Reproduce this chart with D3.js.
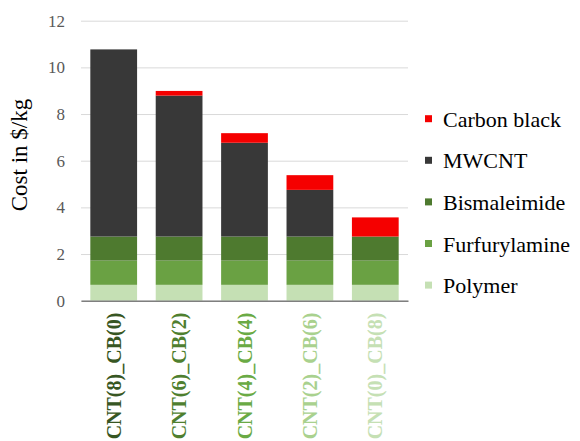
<!DOCTYPE html>
<html>
<head>
<meta charset="utf-8">
<script src="https://cdn.jsdelivr.net/npm/d3@7"></script>
<style>
  html, body { margin: 0; padding: 0; background: #fff; }
  svg { display: block; }
  svg text { font-family: "Liberation Serif", "Times New Roman", serif; }
</style>
</head>
<body>
<svg id="chart" width="580" height="441"></svg>
<script>
// Cost breakdown per formulation ($/kg)
const categories = ["CNT(8)_CB(0)", "CNT(6)_CB(2)", "CNT(4)_CB(4)", "CNT(2)_CB(6)", "CNT(0)_CB(8)"];
const polymer       = [0.68, 0.68, 0.68, 0.68, 0.68];
const furfurylamine = [1.04, 1.04, 1.04, 1.04, 1.04];
const bismaleimide  = [1.03, 1.03, 1.03, 1.03, 1.03];
const mwcnt         = [8.02, 6.04, 4.02, 2.00, 0.00];
const carbonBlack   = [0.00, 0.20, 0.41, 0.63, 0.82];
const yTicks = [0, 2, 4, 6, 8, 10, 12];

const seriesNames = ["Polymer", "Furfurylamine", "Bismaleimide", "MWCNT", "Carbon black"];
const seriesValues = [polymer, furfurylamine, bismaleimide, mwcnt, carbonBlack];
const seriesColors = ["#c5e0b4", "#6aa143", "#4e7a2f", "#383838", "#f50000"];
const labelColors = ["#375623", "#4f7f2f", "#6aaa45", "#a9d18e", "#c5e0b4"];

const rows = categories.map((c, i) => {
  const r = { category: c };
  seriesNames.forEach((s, k) => { r[s] = seriesValues[k][i]; });
  return r;
});

const svg = d3.select("#chart");
const plot = { left: 81, right: 408, top: 20.7, bottom: 300.7 };

const x = d3.scaleBand()
  .domain(categories)
  .range([plot.left, plot.right])
  .paddingInner(0.285)
  .paddingOuter(0.1425);

const y = d3.scaleLinear().domain([0, 12]).range([plot.bottom, plot.top]);

const fontStack = "Liberation Serif, Times New Roman, serif";

// gridlines + y tick labels
const yAxis = d3.axisLeft(y).tickValues(yTicks).tickSize(-(plot.right - plot.left)).tickPadding(16)
  .tickFormat(d3.format("d"));
const gy = svg.append("g").attr("transform", `translate(${plot.left},0)`).call(yAxis);
gy.attr("font-family", fontStack).attr("font-size", 17);
gy.select(".domain").remove();
gy.selectAll(".tick line").attr("stroke", "#d9d9d9").attr("stroke-width", 1);
gy.selectAll(".tick text").attr("fill", "#595959");

// stacked bars
const stack = d3.stack().keys(seriesNames);
const layers = stack(rows);

svg.append("g").selectAll("g")
  .data(layers)
  .join("g")
  .attr("fill", (d, i) => seriesColors[i])
  .selectAll("rect")
  .data(d => d)
  .join("rect")
  .attr("x", d => x(d.data.category))
  .attr("width", x.bandwidth())
  .attr("y", d => y(d[1]))
  .attr("height", d => Math.max(0, y(d[0]) - y(d[1])));

// baseline
const xAxis = d3.axisBottom(x).tickSize(0).tickFormat("");
const gx = svg.append("g").attr("transform", `translate(0,${plot.bottom})`).call(xAxis);
gx.select(".domain").attr("stroke", "#7f7f7f").attr("stroke-width", 1.5);

// rotated category labels
svg.append("g").selectAll("text")
  .data(categories)
  .join("text")
  .attr("transform", d => `translate(${x(d) + x.bandwidth() / 2 + 7},${plot.bottom + 12}) rotate(-90)`)
  .attr("text-anchor", "end")
  .attr("fill", (d, i) => labelColors[i])
  .attr("font-family", fontStack)
  .attr("font-weight", "bold")
  .attr("font-size", 20)
  .text(d => d);

// y axis title
svg.append("text")
  .attr("transform", "translate(27,155) rotate(-90)")
  .attr("text-anchor", "middle")
  .attr("fill", "#000")
  .attr("font-family", fontStack)
  .attr("font-size", 23)
  .text("Cost in $/kg");

// legend (top entry is the top of the stack)
const legendOrder = seriesNames.map((n, i) => ({ name: n, color: seriesColors[i] })).reverse();
const legend = svg.append("g").attr("transform", "translate(425,126.7)");
const item = legend.selectAll("g")
  .data(legendOrder)
  .join("g")
  .attr("transform", (d, i) => `translate(0,${i * 41.6})`);
item.append("rect")
  .attr("x", 0).attr("y", -11.5).attr("width", 7).attr("height", 7)
  .attr("fill", d => d.color);
item.append("text")
  .attr("x", 18).attr("y", 0)
  .attr("fill", "#000")
  .attr("font-family", fontStack)
  .attr("font-size", 22)
  .text(d => d.name);
</script>
</body>
</html>
